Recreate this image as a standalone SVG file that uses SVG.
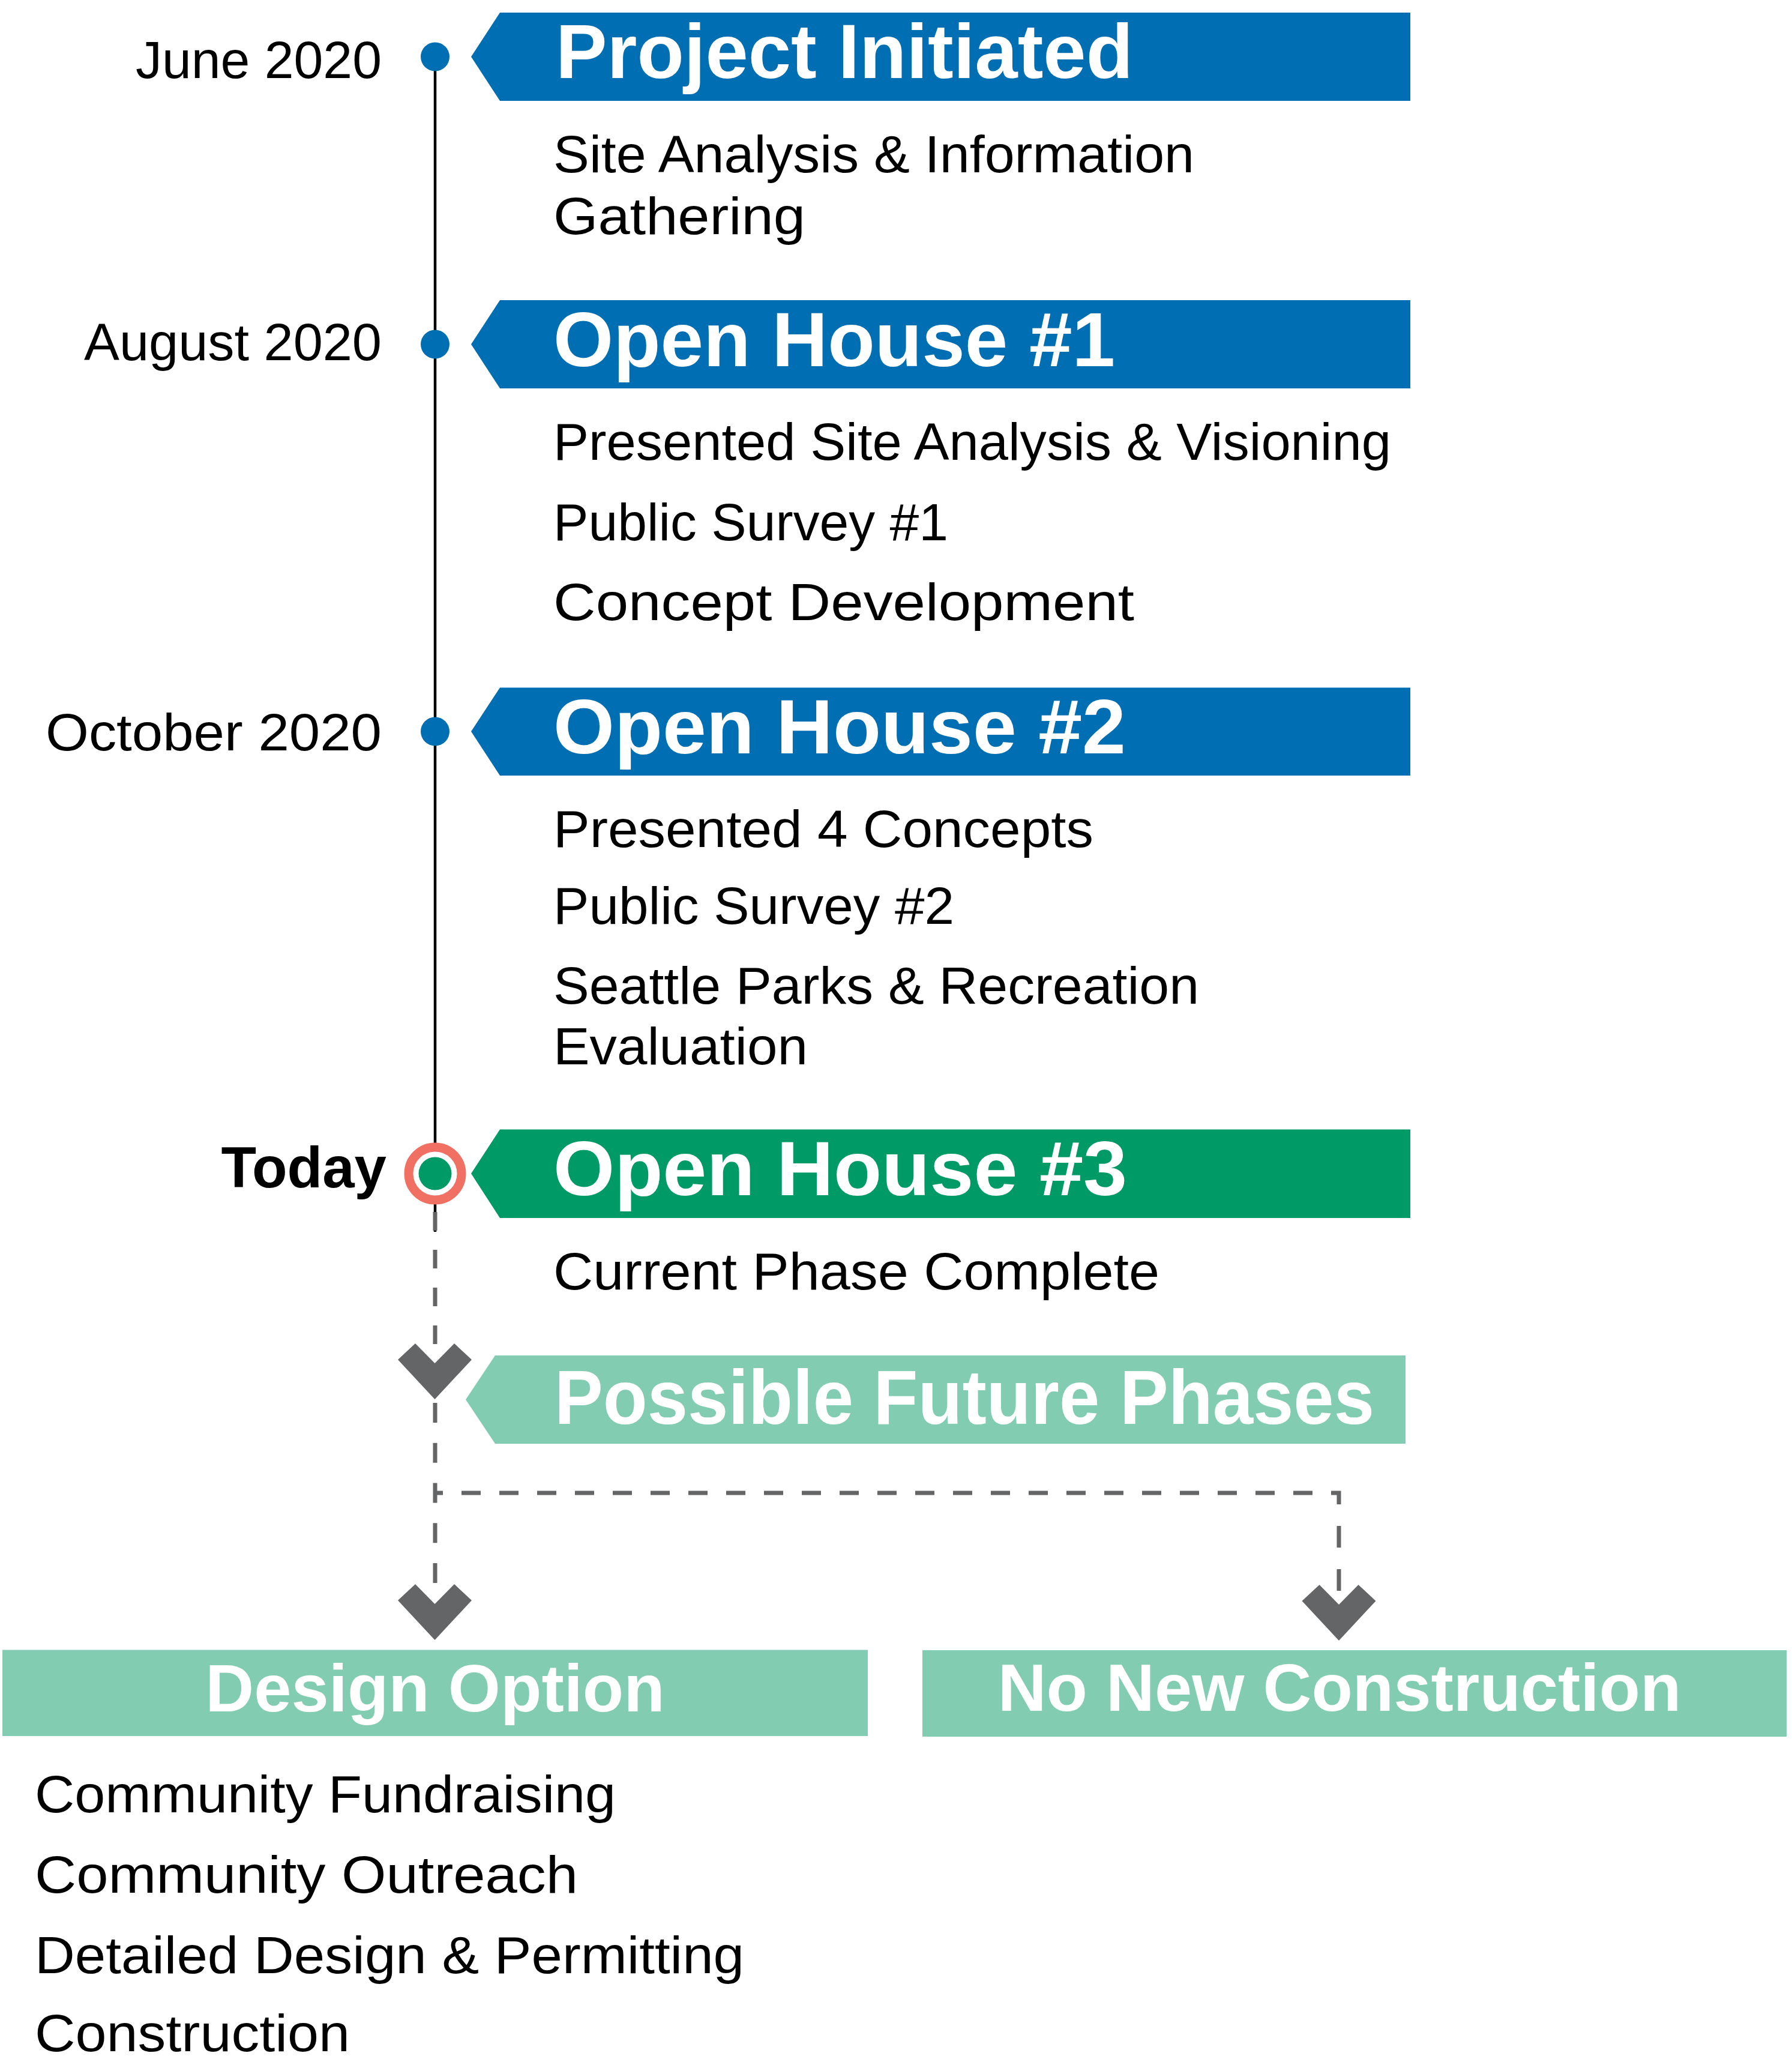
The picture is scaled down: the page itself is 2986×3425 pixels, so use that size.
<svg xmlns="http://www.w3.org/2000/svg" xmlns:xlink="http://www.w3.org/1999/xlink" width="2986" height="3425" viewBox="0 0 2986 3425">
<style>
.title{font-family:"Liberation Sans",Arial,sans-serif;font-weight:bold;font-size:128px;fill:#ffffff}
.sub{font-family:"Liberation Sans",Arial,sans-serif;font-weight:bold;font-size:112px;fill:#ffffff}
.body{font-family:"Liberation Sans",Arial,sans-serif;font-size:88px;fill:#000000}
.date{font-family:"Liberation Sans",Arial,sans-serif;font-size:87px;fill:#000000}
.today{font-family:"Liberation Sans",Arial,sans-serif;font-weight:bold;font-size:96px;fill:#000000}
.blue{fill:#006EB3}
.green{fill:#009A66}
.mint{fill:#82CCB2}
.dot{fill:#006EB3}
.dash{fill:none;stroke:#646567;stroke-width:7}
.chev{fill:#646567}
</style>
<defs>
<path id="chevron" d="M-32.5,0 L-61.5,27 L0,93 L61.5,27 L32.5,0 L0,33 Z"/>
</defs>
<rect width="2986" height="3425" fill="#ffffff"/>

<g id="connectors">
<line x1="725" y1="94.5" x2="725" y2="2052" stroke="#000000" stroke-width="4.5"/>
<path class="dash" d="M725,2019 V2239" stroke-dasharray="31 32"/>
<path class="dash" d="M725,2337 V2637" stroke-dasharray="33 33.75"/>
<path class="dash" d="M725,2487 H2231 V2506" stroke-dasharray="32 31" stroke-dashoffset="19"/>
<path class="dash" d="M2231,2542 V2578 M2231,2614 V2650"/>
<use xlink:href="#chevron" class="chev" x="724.5" y="2238"/>
<use xlink:href="#chevron" class="chev" x="724.5" y="2639"/>
<use xlink:href="#chevron" class="chev" x="2231" y="2640"/>
</g>

<g id="node-project-initiated">
<circle class="dot" cx="725" cy="94.5" r="24"/>
<text class="date" x="636" y="130" text-anchor="end" textLength="410" lengthAdjust="spacingAndGlyphs">June 2020</text>
<polygon class="blue" points="785,94.5 833,21 2350,21 2350,168 833,168"/>
<text class="title" x="926" y="130" textLength="962" lengthAdjust="spacingAndGlyphs">Project Initiated</text>
<text class="body" x="922" y="287" textLength="1068" lengthAdjust="spacingAndGlyphs">Site Analysis &amp; Information</text>
<text class="body" x="922" y="390" textLength="420" lengthAdjust="spacingAndGlyphs">Gathering</text>
</g>

<g id="node-open-house-1">
<circle class="dot" cx="725" cy="573.5" r="24"/>
<text class="date" x="636" y="600" text-anchor="end" textLength="496" lengthAdjust="spacingAndGlyphs">August 2020</text>
<polygon class="blue" points="785,573.5 833,500 2350,500 2350,647 833,647"/>
<text class="title" x="922" y="610" textLength="936" lengthAdjust="spacingAndGlyphs">Open House #1</text>
<text class="body" x="922" y="766" textLength="1396" lengthAdjust="spacingAndGlyphs">Presented Site Analysis &amp; Visioning</text>
<text class="body" x="922" y="900" textLength="658" lengthAdjust="spacingAndGlyphs">Public Survey #1</text>
<text class="body" x="922" y="1033" textLength="968" lengthAdjust="spacingAndGlyphs">Concept Development</text>
</g>

<g id="node-open-house-2">
<circle class="dot" cx="725" cy="1218.5" r="24"/>
<text class="date" x="636" y="1250" text-anchor="end" textLength="560" lengthAdjust="spacingAndGlyphs">October 2020</text>
<polygon class="blue" points="785,1218.5 833,1145.5 2350,1145.5 2350,1292 833,1292"/>
<text class="title" x="922" y="1255" textLength="954" lengthAdjust="spacingAndGlyphs">Open House #2</text>
<text class="body" x="922" y="1411" textLength="900" lengthAdjust="spacingAndGlyphs">Presented 4 Concepts</text>
<text class="body" x="922" y="1539" textLength="668" lengthAdjust="spacingAndGlyphs">Public Survey #2</text>
<text class="body" x="922" y="1672" textLength="1076" lengthAdjust="spacingAndGlyphs">Seattle Parks &amp; Recreation</text>
<text class="body" x="922" y="1773" textLength="424" lengthAdjust="spacingAndGlyphs">Evaluation</text>
</g>

<g id="node-open-house-3">
<circle cx="725" cy="1955" r="44" fill="#ffffff" stroke="#F07064" stroke-width="15"/>
<circle class="green" cx="725" cy="1955" r="27.5"/>
<text class="today" x="644" y="1978" text-anchor="end">Today</text>
<polygon class="green" points="785,1955 833,1881.5 2350,1881.5 2350,2029 833,2029"/>
<text class="title" x="922" y="1991" textLength="956" lengthAdjust="spacingAndGlyphs">Open House #3</text>
<text class="body" x="922" y="2148" textLength="1010" lengthAdjust="spacingAndGlyphs">Current Phase Complete</text>
</g>

<g id="node-possible-future-phases">
<polygon class="mint" points="776,2331.5 825,2258 2342,2258 2342,2405 825,2405"/>
<text class="title" x="924" y="2372" textLength="1366" lengthAdjust="spacingAndGlyphs">Possible Future Phases</text>
</g>

<g id="node-design-option">
<rect class="mint" x="4" y="2748.5" width="1442" height="143.5"/>
<text class="sub" x="725" y="2851" text-anchor="middle">Design Option</text>
<text class="body" x="58" y="3019" textLength="968" lengthAdjust="spacingAndGlyphs">Community Fundraising</text>
<text class="body" x="58" y="3153" textLength="905" lengthAdjust="spacingAndGlyphs">Community Outreach</text>
<text class="body" x="58" y="3287" textLength="1182" lengthAdjust="spacingAndGlyphs">Detailed Design &amp; Permitting</text>
<text class="body" x="58" y="3417" textLength="525" lengthAdjust="spacingAndGlyphs">Construction</text>
</g>

<g id="node-no-new-construction">
<rect class="mint" x="1537" y="2749" width="1440" height="144"/>
<text class="sub" x="2232" y="2850" text-anchor="middle">No New Construction</text>
</g>
</svg>
